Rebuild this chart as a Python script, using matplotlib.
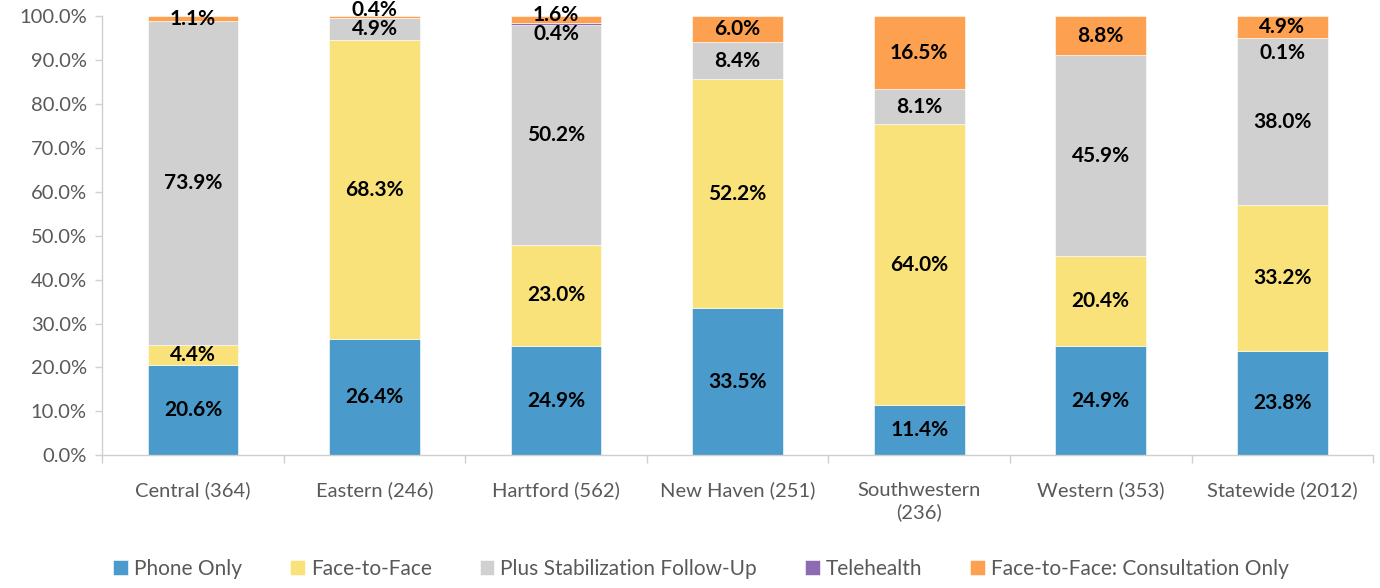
import matplotlib
matplotlib.use("Agg")
import matplotlib.pyplot as plt
import numpy as np
from matplotlib.ticker import FuncFormatter, FixedLocator

categories = ["Central (364)", "Eastern (246)", "Hartford (562)", "New Haven (251)",
              "Southwestern\n(236)", "Western (353)", "Statewide (2012)"]
series_names = ["Phone Only", "Face-to-Face", "Plus Stabilization Follow-Up",
                "Telehealth", "Face-to-Face: Consultation Only"]
phone_only = [20.6, 26.4, 24.9, 33.5, 11.4, 24.9, 23.8]
face_to_face = [4.4, 68.3, 23.0, 52.2, 64.0, 20.4, 33.2]
plus_stab = [73.9, 4.9, 50.2, 8.4, 8.1, 45.9, 38.0]
telehealth = [0.0, 0.0, 0.4, 0.0, 0.0, 0.0, 0.1]
consult_only = [1.1, 0.4, 1.6, 6.0, 16.5, 8.8, 4.9]

colors = ["#4A9ACB", "#F9E27A", "#D0D0D0", "#8C6BB1", "#FDA04F"]
values = [phone_only, face_to_face, plus_stab, telehealth, consult_only]

plt.rcParams['font.family'] = ['Lato', 'DejaVu Sans']
fig = plt.figure(figsize=(13.8, 5.88), dpi=100)
ax = fig.add_axes([0.074, 0.226, 0.921, 0.746])

x = np.arange(len(categories))
bottom = np.zeros(len(categories))
# label offsets (in %) for tiny segments, keyed by (series index, category index)
label_shift = {(4, 1): 1.6, (4, 2): 1.0, (3, 2): -2.2, (3, 6): -3.3}
for si, (name, vals, col) in enumerate(zip(series_names, values, colors)):
    vals = np.array(vals)
    ax.bar(x, vals, 0.5, bottom=bottom, color=col, label=name,
           edgecolor="white", linewidth=0.4, zorder=2)
    for ci, v in enumerate(vals):
        if v > 0:
            yc = bottom[ci] + v / 2 + label_shift.get((si, ci), 0)
            ax.text(x[ci], yc, f"{v:.1f}%", ha="center", va="center",
                    fontsize=15, fontweight="bold", color="black", zorder=3)
    bottom += vals

ax.set_xlim(-0.5, len(categories) - 0.5)
ax.set_ylim(0, 100)
ax.yaxis.set_major_locator(FixedLocator(np.arange(0, 101, 10)))
ax.yaxis.set_major_formatter(FuncFormatter(lambda v, p: f"{v:.1f}%"))
ax.set_xticks(x)
ax.set_xticklabels(categories, linespacing=1.35)
ax.xaxis.set_minor_locator(FixedLocator(np.arange(-0.5, len(categories), 1)))
ax.tick_params(axis="x", which="major", length=0, pad=19, labelsize=14.5, labelcolor="#595959")
ax.tick_params(axis="x", which="minor", length=6, color="#D0D0D0", width=1)
ax.tick_params(axis="y", length=5, color="#D0D0D0", width=1, labelsize=14.5,
               labelcolor="#595959", pad=6)
for s in ["top", "right"]:
    ax.spines[s].set_visible(False)
for s in ["left", "bottom"]:
    ax.spines[s].set_color("#D0D0D0")
    ax.spines[s].set_linewidth(1)

leg = fig.legend(loc="center", bbox_to_anchor=(0.508, 0.033), ncol=5, frameon=False,
                 fontsize=15, handlelength=0.7, handleheight=0.7, handletextpad=0.3,
                 columnspacing=2.3)
for t in leg.get_texts():
    t.set_color("#595959")

fig.savefig("out.png", dpi=100)
